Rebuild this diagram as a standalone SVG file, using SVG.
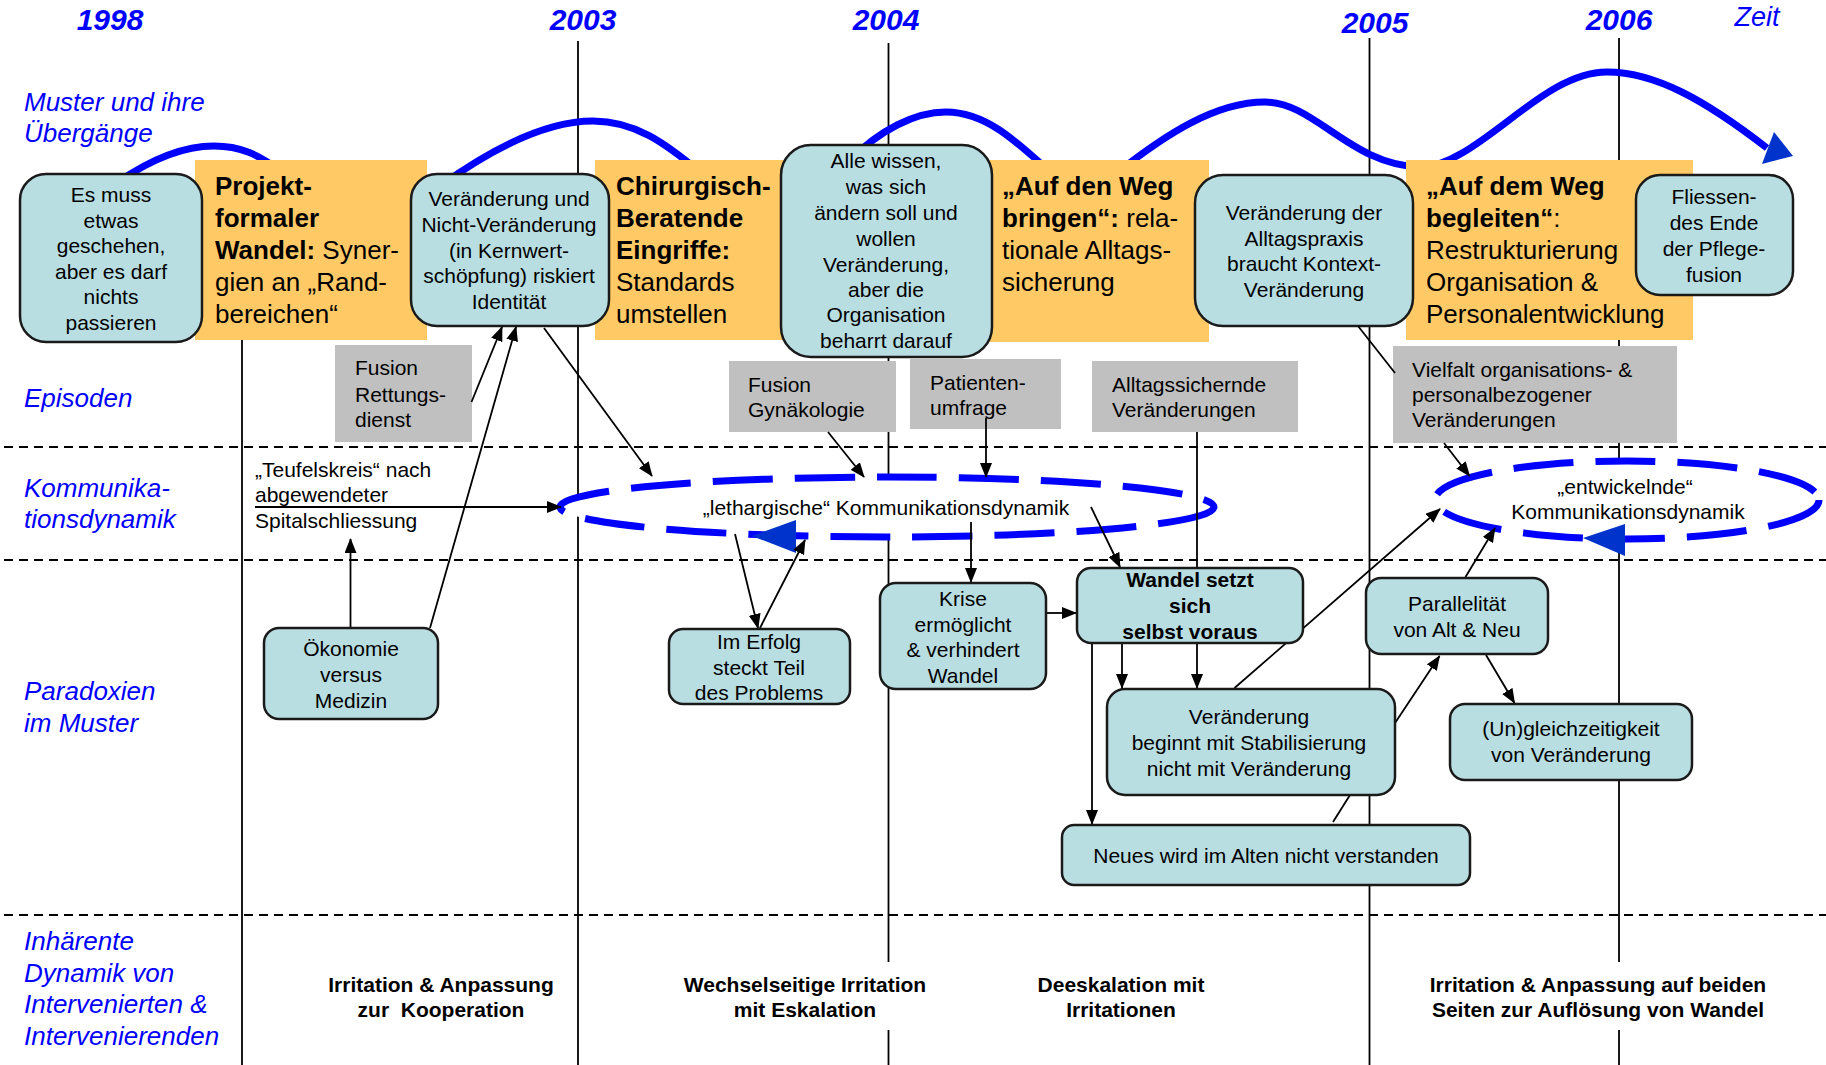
<svg xmlns="http://www.w3.org/2000/svg" width="1826" height="1065" viewBox="0 0 1826 1065">
<defs>
<style>
.t{font-family:"Liberation Sans",Arial,sans-serif;font-size:21px;fill:#000}
.c{text-anchor:middle}
.b{font-weight:bold}
.o{font-size:26px}
.lane{font-family:"Liberation Sans",Arial,sans-serif;font-size:26px;font-style:italic;fill:#0000FF}
.year{font-family:"Liberation Sans",Arial,sans-serif;font-size:30px;font-weight:bold;font-style:italic;fill:#0000FF;text-anchor:middle}
.node{fill:#B8DEE2;stroke:#1a1a1a;stroke-width:2.5}
.orange{fill:#FFCA66}
.gray{fill:#C0C0C0}
.tl{stroke:#000;stroke-width:1.8}
.sep{stroke:#000;stroke-width:2;stroke-dasharray:9 6}
.wave{fill:none;stroke:#0000FF;stroke-width:7}
.ell{fill:#fff;stroke:#0000FF;stroke-width:7;stroke-dasharray:60 22}
.con{stroke:#000;stroke-width:1.8;fill:none}
.ah{fill:#0033CC}
</style>
<marker id="ah" markerUnits="userSpaceOnUse" markerWidth="15" markerHeight="12" viewBox="0 0 15 12" refX="14" refY="6" orient="auto"><path d="M0,0 L15,6 L0,12 z" fill="#000"/></marker>
</defs>
<rect width="1826" height="1065" fill="#fff"/>

<g id="timeline">
<line class="tl" x1="242" y1="200" x2="242" y2="1065"/>
<line class="tl" x1="578" y1="41" x2="578" y2="1065"/>
<line class="tl" x1="888.5" y1="43" x2="888.5" y2="1065"/>
<line class="tl" x1="1369.5" y1="38" x2="1369.5" y2="1065"/>
<line class="tl" x1="1619" y1="38" x2="1619" y2="1065"/>
<line class="sep" x1="4" y1="447" x2="1826" y2="447"/>
<line class="sep" x1="4" y1="560" x2="1826" y2="560"/>
<line class="sep" x1="4" y1="915" x2="1826" y2="915"/>
</g>

<g id="years">
<text class="year" x="110" y="30">1998</text>
<text class="year" x="583" y="30">2003</text>
<text class="year" x="886" y="29.5">2004</text>
<text class="year" x="1375" y="33">2005</text>
<text class="year" x="1619" y="29.5">2006</text>
<text x="1757" y="26" style="font-family:'Liberation Sans',Arial,sans-serif;font-size:27px;font-style:italic;fill:#0000FF;text-anchor:middle">Zeit</text>
</g>

<g id="lanes">
<text class="lane" x="24" y="111">Muster und ihre</text>
<text class="lane" x="24" y="142">Übergänge</text>
<text class="lane" x="24" y="407">Episoden</text>
<text class="lane" x="24" y="497">Kommunika-</text>
<text class="lane" x="24" y="528">tionsdynamik</text>
<text class="lane" x="24" y="700">Paradoxien</text>
<text class="lane" x="24" y="732">im Muster</text>
<text class="lane" x="24" y="950">Inhärente</text>
<text class="lane" x="24" y="982">Dynamik von</text>
<text class="lane" x="24" y="1013">Intervenierten &amp;</text>
<text class="lane" x="24" y="1045">Intervenierenden</text>
</g>

<g id="wave">
<path class="wave" d="M118 182 C150 160,182 146,214 146 C240 146,258 154,282 172"/>
<path class="wave" d="M440 186 C490 150,545 121,593 121 C635 121,665 143,700 172"/>
<path class="wave" d="M850 160 C880 130,915 112,946 112 C985 112,1015 140,1050 172"/>
<path class="wave" d="M1118 172 C1165 135,1215 102,1265 102 C1315 102,1350 165,1420 167"/>
<path class="wave" d="M1418 168 C1480 165,1540 72,1607 72 C1655 72,1705 100,1767 148"/>
<polygon class="ah" points="1762,164 1774,132 1793,156"/>
</g>

<g id="phase1"><rect class="orange" x="195" y="160" width="232" height="180"/>
<text class="t o" x="215" y="195"><tspan class="b">Projekt-</tspan></text>
<text class="t o" x="215" y="227"><tspan class="b">formaler</tspan></text>
<text class="t o" x="215" y="259"><tspan class="b">Wandel:</tspan> Syner-</text>
<text class="t o" x="215" y="291">gien an „Rand-</text>
<text class="t o" x="215" y="323">bereichen“</text></g>

<g id="phase2"><rect class="orange" x="595" y="160" width="210" height="180"/>
<text class="t o b" x="616" y="195">Chirurgisch-</text>
<text class="t o b" x="616" y="227">Beratende</text>
<text class="t o b" x="616" y="259">Eingriffe:</text>
<text class="t o" x="616" y="291">Standards</text>
<text class="t o" x="616" y="323">umstellen</text></g>

<g id="phase3"><rect class="orange" x="975" y="160" width="234" height="182"/>
<text class="t o b" x="1002" y="195">„Auf den Weg</text>
<text class="t o" x="1002" y="227"><tspan class="b">bringen“:</tspan> rela-</text>
<text class="t o" x="1002" y="259">tionale Alltags-</text>
<text class="t o" x="1002" y="291">sicherung</text></g>

<g id="phase4"><rect class="orange" x="1406" y="160" width="287" height="180"/>
<text class="t o b" x="1426" y="195">„Auf dem Weg</text>
<text class="t o" x="1426" y="227"><tspan class="b">begleiten“</tspan>:</text>
<text class="t o" x="1426" y="259">Restrukturierung</text>
<text class="t o" x="1426" y="291">Organisation &amp;</text>
<text class="t o" x="1426" y="323">Personalentwicklung</text></g>

<g id="m1"><rect class="node" x="20" y="174" width="182" height="168" rx="26"/>
<text class="t c" x="111" y="202">Es muss</text>
<text class="t c" x="111" y="228">etwas</text>
<text class="t c" x="111" y="253">geschehen,</text>
<text class="t c" x="111" y="279">aber es darf</text>
<text class="t c" x="111" y="304">nichts</text>
<text class="t c" x="111" y="330">passieren</text></g>

<g id="m2"><rect class="node" x="411" y="174" width="198" height="152" rx="26"/>
<text class="t c" x="509" y="206">Veränderung und</text>
<text class="t c" x="509" y="232">Nicht-Veränderung</text>
<text class="t c" x="509" y="258">(in Kernwert-</text>
<text class="t c" x="509" y="283">schöpfung) riskiert</text>
<text class="t c" x="509" y="309">Identität</text></g>

<g id="m3"><rect class="node" x="781" y="145" width="211" height="212" rx="30"/>
<text class="t c" x="886" y="168">Alle wissen,</text>
<text class="t c" x="886" y="194">was sich</text>
<text class="t c" x="886" y="220">ändern soll und</text>
<text class="t c" x="886" y="246">wollen</text>
<text class="t c" x="886" y="272">Veränderung,</text>
<text class="t c" x="886" y="297">aber die</text>
<text class="t c" x="886" y="322">Organisation</text>
<text class="t c" x="886" y="348">beharrt darauf</text></g>

<g id="m4"><rect class="node" x="1195" y="175" width="218" height="151" rx="28"/>
<text class="t c" x="1304" y="220">Veränderung der</text>
<text class="t c" x="1304" y="246">Alltagspraxis</text>
<text class="t c" x="1304" y="271">braucht Kontext-</text>
<text class="t c" x="1304" y="297">Veränderung</text></g>

<g id="m5"><rect class="node" x="1636" y="175" width="157" height="120" rx="24"/>
<text class="t c" x="1714" y="204">Fliessen-</text>
<text class="t c" x="1714" y="230">des Ende</text>
<text class="t c" x="1714" y="256">der Pflege-</text>
<text class="t c" x="1714" y="282">fusion</text></g>

<g id="e1"><rect class="gray" x="335" y="345" width="137" height="97"/>
<text class="t" x="355" y="375">Fusion</text>
<text class="t" x="355" y="402">Rettungs-</text>
<text class="t" x="355" y="427">dienst</text></g>

<g id="e2"><rect class="gray" x="729" y="361" width="167" height="71"/>
<text class="t" x="748" y="392">Fusion</text>
<text class="t" x="748" y="417">Gynäkologie</text></g>

<g id="e3"><rect class="gray" x="910" y="359" width="151" height="70"/>
<text class="t" x="930" y="390">Patienten-</text>
<text class="t" x="930" y="415">umfrage</text></g>

<g id="e4"><rect class="gray" x="1092" y="361" width="206" height="71"/>
<text class="t" x="1112" y="392">Alltagssichernde</text>
<text class="t" x="1112" y="417">Veränderungen</text></g>

<g id="e5"><rect class="gray" x="1393" y="346" width="284" height="97"/>
<text class="t" x="1412" y="377">Vielfalt organisations- &amp;</text>
<text class="t" x="1412" y="402">personalbezogener</text>
<text class="t" x="1412" y="427">Veränderungen</text></g>

<g id="k0"><text class="t" x="255" y="477">„Teufelskreis“ nach</text>
<text class="t" x="255" y="502">abgewendeter</text>
<text class="t" x="255" y="528">Spitalschliessung</text></g>

<g id="k1"><ellipse class="ell" cx="887" cy="507" rx="327" ry="30"/>
<polygon class="ah" points="752,536 796,520 796,553"/>
<text class="t c" x="886" y="515">„lethargische“ Kommunikationsdynamik</text></g>

<g id="k2"><ellipse class="ell" cx="1627" cy="500" rx="192" ry="39"/>
<polygon class="ah" points="1583,538 1625,524 1625,556"/>
<text class="t c" x="1625" y="494">„entwickelnde“</text>
<text class="t c" x="1628" y="519">Kommunikationsdynamik</text></g>

<g id="connectors">
<line class="con" x1="255" y1="507" x2="561" y2="507" marker-end="url(#ah)"/>
<line class="con" x1="350.5" y1="628" x2="350.5" y2="539" marker-end="url(#ah)"/>
<line class="con" x1="430" y1="628" x2="516" y2="327" marker-end="url(#ah)"/>
<line class="con" x1="471.5" y1="402" x2="502" y2="327" marker-end="url(#ah)"/>
<line class="con" x1="544" y1="328" x2="652" y2="476" marker-end="url(#ah)"/>
<line class="con" x1="828" y1="432" x2="864" y2="477" marker-end="url(#ah)"/>
<line class="con" x1="986" y1="418" x2="986" y2="477" marker-end="url(#ah)"/>
<line class="con" x1="735" y1="534" x2="758" y2="628" marker-end="url(#ah)"/>
<line class="con" x1="760" y1="628" x2="805" y2="540" marker-end="url(#ah)"/>
<line class="con" x1="971" y1="522" x2="971" y2="582" marker-end="url(#ah)"/>
<line class="con" x1="1091" y1="507" x2="1120" y2="567" marker-end="url(#ah)"/>
<line class="con" x1="1046" y1="613" x2="1076" y2="613" marker-end="url(#ah)"/>
<line class="con" x1="1197" y1="432" x2="1197" y2="688" marker-end="url(#ah)"/>
<line class="con" x1="1122" y1="644" x2="1122" y2="688" marker-end="url(#ah)"/>
<line class="con" x1="1092" y1="644" x2="1092" y2="824" marker-end="url(#ah)"/>
<line class="con" x1="1234.5" y1="688" x2="1440" y2="509" marker-end="url(#ah)"/>
<line class="con" x1="1395" y1="723" x2="1439.5" y2="656" marker-end="url(#ah)"/>
<line class="con" x1="1350" y1="795" x2="1333" y2="822"/>
<line class="con" x1="1486" y1="655" x2="1514.5" y2="703" marker-end="url(#ah)"/>
<line class="con" x1="1465.5" y1="577" x2="1495" y2="528" marker-end="url(#ah)"/>
<line class="con" x1="1444" y1="443" x2="1469.5" y2="476" marker-end="url(#ah)"/>
<line class="con" x1="1358" y1="326" x2="1395" y2="373"/>
</g>

<g id="p1"><rect class="node" x="264" y="628" width="174" height="91" rx="15"/>
<text class="t c" x="351" y="656">Ökonomie</text>
<text class="t c" x="351" y="682">versus</text>
<text class="t c" x="351" y="708">Medizin</text></g>

<g id="p2"><rect class="node" x="669" y="629" width="181" height="75" rx="14"/>
<text class="t c" x="759" y="649">Im Erfolg</text>
<text class="t c" x="759" y="675">steckt Teil</text>
<text class="t c" x="759" y="700">des Problems</text></g>

<g id="p3"><rect class="node" x="880" y="583" width="166" height="106" rx="16"/>
<text class="t c" x="963" y="606">Krise</text>
<text class="t c" x="963" y="632">ermöglicht</text>
<text class="t c" x="963" y="657">&amp; verhindert</text>
<text class="t c" x="963" y="683">Wandel</text></g>

<g id="p4"><rect class="node" x="1077" y="568" width="226" height="75" rx="14"/>
<text class="t c b" x="1190" y="587">Wandel setzt</text>
<text class="t c b" x="1190" y="613">sich</text>
<text class="t c b" x="1190" y="639">selbst voraus</text></g>

<g id="p5"><rect class="node" x="1107" y="689" width="288" height="106" rx="18"/>
<text class="t c" x="1249" y="724">Veränderung</text>
<text class="t c" x="1249" y="750">beginnt mit Stabilisierung</text>
<text class="t c" x="1249" y="776">nicht mit Veränderung</text></g>

<g id="p6"><rect class="node" x="1062" y="825" width="408" height="60" rx="12"/>
<text class="t c" x="1266" y="863">Neues wird im Alten nicht verstanden</text></g>

<g id="p7"><rect class="node" x="1366" y="578" width="182" height="76" rx="15"/>
<text class="t c" x="1457" y="611">Parallelität</text>
<text class="t c" x="1457" y="637">von Alt &amp; Neu</text></g>

<g id="p8"><rect class="node" x="1450" y="704" width="242" height="76" rx="15"/>
<text class="t c" x="1571" y="736">(Un)gleichzeitigkeit</text>
<text class="t c" x="1571" y="762">von Veränderung</text></g>

<g id="d1"><rect x="322" y="962" width="238" height="68" fill="#fff"/>
<text class="t c b" x="441" y="992">Irritation &amp; Anpassung</text>
<text class="t c b" x="441" y="1017">zur&#160; Kooperation</text></g>
<g id="d2"><rect x="676" y="962" width="258" height="68" fill="#fff"/>
<text class="t c b" x="805" y="992">Wechselseitige Irritation</text>
<text class="t c b" x="805" y="1017">mit Eskalation</text></g>
<g id="d3"><rect x="1030" y="962" width="182" height="68" fill="#fff"/>
<text class="t c b" x="1121" y="992">Deeskalation mit</text>
<text class="t c b" x="1121" y="1017">Irritationen</text></g>
<g id="d4"><rect x="1420" y="962" width="356" height="68" fill="#fff"/>
<text class="t c b" x="1598" y="992">Irritation &amp; Anpassung auf beiden</text>
<text class="t c b" x="1598" y="1017">Seiten zur Auflösung von Wandel</text></g>
</svg>
